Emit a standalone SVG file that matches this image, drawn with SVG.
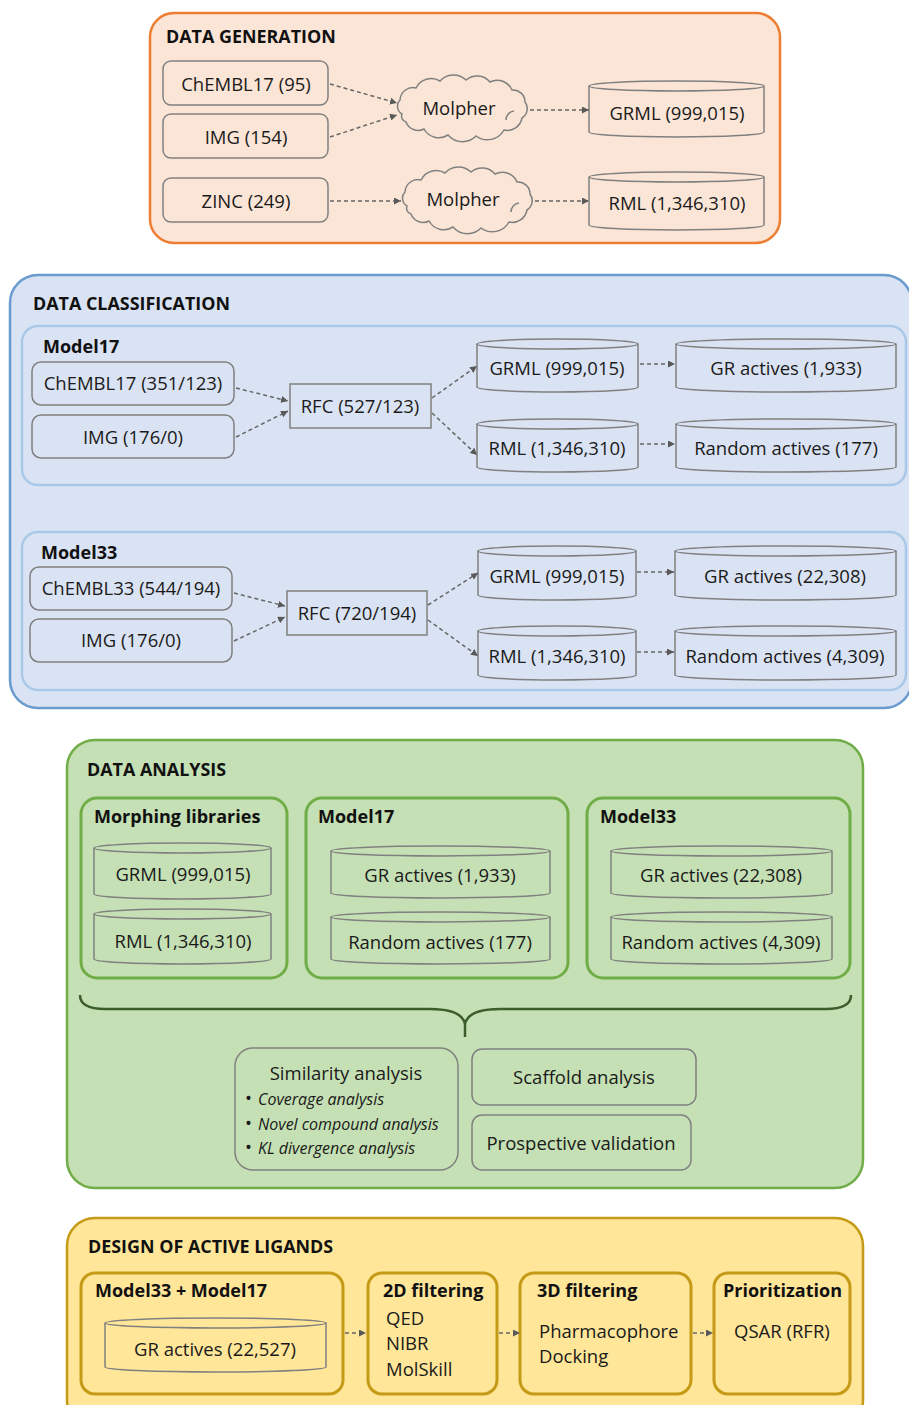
<svg xmlns="http://www.w3.org/2000/svg" width="909" height="1405" viewBox="0 0 909 1405">
<style>
.t{font-family:"Open Sans","Liberation Sans",sans-serif;font-size:18.5px;fill:#1a1a1a}
.c{text-anchor:middle}
.h{font-weight:bold;font-size:17.9px;fill:#111}
.s{font-weight:bold;font-size:18px;fill:#111}
.i{font-style:italic;font-size:16px}
.bx{fill:none;stroke:#808080;stroke-width:1.5}
.cy{fill:none;stroke:#808080;stroke-width:1.5}
.ar{fill:none;stroke:#666;stroke-width:1.5;stroke-dasharray:4 3;marker-end:url(#ah)}
</style>
<defs>
<marker id="ah" viewBox="0 0 8 8" refX="8" refY="4" markerWidth="7" markerHeight="7" markerUnits="userSpaceOnUse" orient="auto"><path d="M0,0 L8,4 L0,8 z" fill="#595959"/></marker>
<path id="cloud" d="M-60,6 A9 9 0 0 1 -62,-8 A13 13 0 0 1 -46,-20 A17 17 0 0 1 -22,-27 A18 18 0 0 1 4,-28 A17 17 0 0 1 28,-26 A16 16 0 0 1 50,-18 A12 12 0 0 1 63,-6 A11 11 0 0 1 60,10 A15 15 0 0 1 42,22 A19 19 0 0 1 14,28 A19 19 0 0 1 -14,27 A17 17 0 0 1 -38,21 A13 13 0 0 1 -56,14 A6 6 0 0 1 -60,6 Z M44,12 A9 9 0 0 1 52,3" fill="none" stroke="#808080" stroke-width="1.5"/>
</defs>

<!-- DATA GENERATION -->
<g id="data-generation">
<rect x="150" y="13" width="630" height="230" rx="24" fill="#fbe5d6" stroke="#ed7d31" stroke-width="2.5"/>
<text class="t h" x="166" y="43">DATA GENERATION</text>
</g>
<g id="dg-chembl17"><rect class="bx" x="163" y="61" width="165" height="44" rx="8"/><text class="t c" x="246" y="90.5">ChEMBL17 (95)</text></g>
<g id="dg-img"><rect class="bx" x="163" y="114" width="165" height="44" rx="8"/><text class="t c" x="246" y="143.5">IMG (154)</text></g>
<g id="dg-zinc"><rect class="bx" x="163" y="178" width="165" height="44" rx="8"/><text class="t c" x="246" y="207.5">ZINC (249)</text></g>
<g id="dg-molpher1"><use href="#cloud" transform="translate(462,108)"/><text class="t c" x="459" y="114.5">Molpher</text></g>
<g id="dg-molpher2"><use href="#cloud" transform="translate(467,200)"/><text class="t c" x="463" y="205.5">Molpher</text></g>
<g id="dg-grml"><path class="cy" d="M589,86 V132 A87.5 5 0 0 0 764,132 V86"/><ellipse class="cy" cx="676.5" cy="86" rx="87.5" ry="5"/><text class="t c" x="677" y="119.5">GRML (999,015)</text></g>
<g id="dg-rml"><path class="cy" d="M589,177 V225 A87.5 5 0 0 0 764,225 V177"/><ellipse class="cy" cx="676.5" cy="177" rx="87.5" ry="5"/><text class="t c" x="677" y="209.5">RML (1,346,310)</text></g>

<!-- DATA CLASSIFICATION -->
<g id="data-classification">
<rect x="10" y="275" width="902" height="433" rx="28" fill="#dae3f3" stroke="#6a9bcf" stroke-width="2.5"/>
<text class="t h" x="33" y="310">DATA CLASSIFICATION</text>
</g>
<g id="dc-model17">
<rect x="22" y="326" width="884" height="159" rx="16" fill="#dae3f3" stroke="#a9c8e8" stroke-width="2.5"/>
<text class="t s" x="43" y="353">Model17</text>
</g>
<g id="dc17-chembl"><rect class="bx" x="32" y="362" width="202" height="43" rx="9"/><text class="t c" x="133" y="389.5">ChEMBL17 (351/123)</text></g>
<g id="dc17-img"><rect class="bx" x="32" y="415" width="202" height="43" rx="9"/><text class="t c" x="133" y="443.5">IMG (176/0)</text></g>
<g id="dc17-rfc"><rect class="bx" x="290" y="384" width="141" height="44"/><text class="t c" x="360" y="412.5">RFC (527/123)</text></g>
<g id="dc17-grml"><path class="cy" d="M477,344 V387 A80.5 5 0 0 0 638,387 V344"/><ellipse class="cy" cx="557.5" cy="344" rx="80.5" ry="5"/><text class="t c" x="557" y="374.5">GRML (999,015)</text></g>
<g id="dc17-gract"><path class="cy" d="M676,344 V387 A110 5 0 0 0 896,387 V344"/><ellipse class="cy" cx="786" cy="344" rx="110" ry="5"/><text class="t c" x="786" y="374.5">GR actives (1,933)</text></g>
<g id="dc17-rml"><path class="cy" d="M477,424 V467 A80.5 5 0 0 0 638,467 V424"/><ellipse class="cy" cx="557.5" cy="424" rx="80.5" ry="5"/><text class="t c" x="557" y="454.5">RML (1,346,310)</text></g>
<g id="dc17-random"><path class="cy" d="M676,424 V467 A110 5 0 0 0 896,467 V424"/><ellipse class="cy" cx="786" cy="424" rx="110" ry="5"/><text class="t c" x="786" y="454.5">Random actives (177)</text></g>

<g id="dc-model33">
<rect x="22" y="532" width="884" height="158" rx="16" fill="#dae3f3" stroke="#a9c8e8" stroke-width="2.5"/>
<text class="t s" x="41" y="559">Model33</text>
</g>
<g id="dc33-chembl"><rect class="bx" x="30" y="567" width="202" height="43" rx="9"/><text class="t c" x="131" y="594.5">ChEMBL33 (544/194)</text></g>
<g id="dc33-img"><rect class="bx" x="30" y="619" width="202" height="43" rx="9"/><text class="t c" x="131" y="646.5">IMG (176/0)</text></g>
<g id="dc33-rfc"><rect class="bx" x="287" y="591" width="140" height="44"/><text class="t c" x="357" y="619.5">RFC (720/194)</text></g>
<g id="dc33-grml"><path class="cy" d="M478,551 V595 A79 5 0 0 0 636,595 V551"/><ellipse class="cy" cx="557" cy="551" rx="79" ry="5"/><text class="t c" x="557" y="582.5">GRML (999,015)</text></g>
<g id="dc33-gract"><path class="cy" d="M675,551 V595 A110.5 5 0 0 0 896,595 V551"/><ellipse class="cy" cx="785.5" cy="551" rx="110.5" ry="5"/><text class="t c" x="785" y="582.5">GR actives (22,308)</text></g>
<g id="dc33-rml"><path class="cy" d="M478,631 V675 A79 5 0 0 0 636,675 V631"/><ellipse class="cy" cx="557" cy="631" rx="79" ry="5"/><text class="t c" x="557" y="662.5">RML (1,346,310)</text></g>
<g id="dc33-random"><path class="cy" d="M675,631 V675 A110.5 5 0 0 0 896,675 V631"/><ellipse class="cy" cx="785.5" cy="631" rx="110.5" ry="5"/><text class="t c" x="785" y="662.5">Random actives (4,309)</text></g>

<!-- DATA ANALYSIS -->
<g id="data-analysis">
<rect x="67" y="740" width="796" height="448" rx="28" fill="#c5e0b4" stroke="#70ad47" stroke-width="2.5"/>
<text class="t h" x="87" y="776">DATA ANALYSIS</text>
</g>
<g id="da-morphing">
<rect x="81" y="798" width="206" height="180" rx="16" fill="none" stroke="#70ad47" stroke-width="3"/>
<text class="t s" x="94" y="823">Morphing libraries</text>
<path class="cy" d="M94,848 V894 A88.5 5 0 0 0 271,894 V848"/><ellipse class="cy" cx="182.5" cy="848" rx="88.5" ry="5"/><text class="t c" x="183" y="880.5">GRML (999,015)</text>
<path class="cy" d="M94,914 V959 A88.5 5 0 0 0 271,959 V914"/><ellipse class="cy" cx="182.5" cy="914" rx="88.5" ry="5"/><text class="t c" x="183" y="947.5">RML (1,346,310)</text>
</g>
<g id="da-model17">
<rect x="306" y="798" width="262" height="180" rx="16" fill="none" stroke="#70ad47" stroke-width="3"/>
<text class="t s" x="318" y="823">Model17</text>
<path class="cy" d="M331,851 V893 A109.5 5 0 0 0 550,893 V851"/><ellipse class="cy" cx="440.5" cy="851" rx="109.5" ry="5"/><text class="t c" x="440" y="881.5">GR actives (1,933)</text>
<path class="cy" d="M331,917 V959 A109.5 5 0 0 0 550,959 V917"/><ellipse class="cy" cx="440.5" cy="917" rx="109.5" ry="5"/><text class="t c" x="440" y="948.5">Random actives (177)</text>
</g>
<g id="da-model33">
<rect x="587" y="798" width="263" height="180" rx="16" fill="none" stroke="#70ad47" stroke-width="3"/>
<text class="t s" x="600" y="823">Model33</text>
<path class="cy" d="M611,851 V893 A110.5 5 0 0 0 832,893 V851"/><ellipse class="cy" cx="721.5" cy="851" rx="110.5" ry="5"/><text class="t c" x="721" y="881.5">GR actives (22,308)</text>
<path class="cy" d="M611,917 V959 A110.5 5 0 0 0 832,959 V917"/><ellipse class="cy" cx="721.5" cy="917" rx="110.5" ry="5"/><text class="t c" x="721" y="948.5">Random actives (4,309)</text>
</g>
<g id="da-brace">
<path d="M80,995 C80,1004 88,1009 105,1009 L430,1009 C452,1009 463,1015 465,1024 C467,1015 478,1009 500,1009 L826,1009 C843,1009 851,1004 851,995 M465,1022 L465,1037" fill="none" stroke="#3b5e2b" stroke-width="2.5"/>
</g>
<g id="da-similarity">
<rect x="235" y="1048" width="223" height="122" rx="18" fill="none" stroke="#808080" stroke-width="1.5"/>
<text class="t c" x="346" y="1080">Similarity analysis</text>
<text class="t" x="245" y="1105" font-size="15">•<tspan x="258" class="i">Coverage analysis</tspan></text>
<text class="t" x="245" y="1130" font-size="15">•<tspan x="258" class="i">Novel compound analysis</tspan></text>
<text class="t" x="245" y="1154" font-size="15">•<tspan x="258" class="i">KL divergence analysis</tspan></text>
</g>
<g id="da-scaffold"><rect x="472" y="1049" width="224" height="56" rx="10" fill="none" stroke="#808080" stroke-width="1.5"/><text class="t c" x="584" y="1083.5">Scaffold analysis</text></g>
<g id="da-prospective"><rect x="472" y="1115" width="219" height="55" rx="10" fill="none" stroke="#808080" stroke-width="1.5"/><text class="t c" x="581" y="1149.5">Prospective validation</text></g>

<!-- DESIGN OF ACTIVE LIGANDS -->
<g id="design">
<rect x="67" y="1218" width="796" height="210" rx="28" fill="#ffe699" stroke="#c49a16" stroke-width="2.5"/>
<text class="t h" x="88" y="1253">DESIGN OF ACTIVE LIGANDS</text>
</g>
<g id="dl-models">
<rect x="81" y="1273" width="262" height="121" rx="14" fill="none" stroke="#c49a16" stroke-width="3"/>
<text class="t s" x="95" y="1297">Model33 + Model17</text>
<path class="cy" d="M105,1323 V1367 A110.5 5 0 0 0 326,1367 V1323"/><ellipse class="cy" cx="215.5" cy="1323" rx="110.5" ry="5"/><text class="t c" x="215" y="1355.5">GR actives (22,527)</text>
</g>
<g id="dl-2d">
<rect x="368" y="1273" width="129" height="121" rx="14" fill="none" stroke="#c49a16" stroke-width="3"/>
<text class="t s" x="383" y="1297">2D filtering</text>
<text class="t" x="386" y="1325">QED</text>
<text class="t" x="386" y="1350">NIBR</text>
<text class="t" x="386" y="1376">MolSkill</text>
</g>
<g id="dl-3d">
<rect x="520" y="1273" width="171" height="121" rx="14" fill="none" stroke="#c49a16" stroke-width="3"/>
<text class="t s" x="537" y="1297">3D filtering</text>
<text class="t" x="539" y="1338">Pharmacophore</text>
<text class="t" x="539" y="1363">Docking</text>
</g>
<g id="dl-prior">
<rect x="714" y="1273" width="136" height="121" rx="14" fill="none" stroke="#c49a16" stroke-width="3"/>
<text class="t s" x="723" y="1297">Prioritization</text>
<text class="t" x="734" y="1338">QSAR (RFR)</text>
</g>

<!-- CONNECTORS -->
<g id="connectors">
<path class="ar" d="M330,84 L397,103"/>
<path class="ar" d="M330,137 L397,115"/>
<path class="ar" d="M330,201 L401,201"/>
<path class="ar" d="M530,110 L589,110"/>
<path class="ar" d="M535,201 L589,201"/>
<path class="ar" d="M236,388 L288,401"/>
<path class="ar" d="M236,437 L288,411"/>
<path class="ar" d="M432,398 L477,366"/>
<path class="ar" d="M432,413 L477,455"/>
<path class="ar" d="M640,364 L675,364"/>
<path class="ar" d="M640,444 L675,444"/>
<path class="ar" d="M234,593 L285,606"/>
<path class="ar" d="M234,641 L285,617"/>
<path class="ar" d="M428,605 L478,573"/>
<path class="ar" d="M428,620 L478,656"/>
<path class="ar" d="M637,572 L674,572"/>
<path class="ar" d="M637,652 L674,652"/>
<path class="ar" d="M345,1333 L366,1333"/>
<path class="ar" d="M499,1333 L520,1333"/>
<path class="ar" d="M693,1333 L713,1333"/>
</g>
</svg>
